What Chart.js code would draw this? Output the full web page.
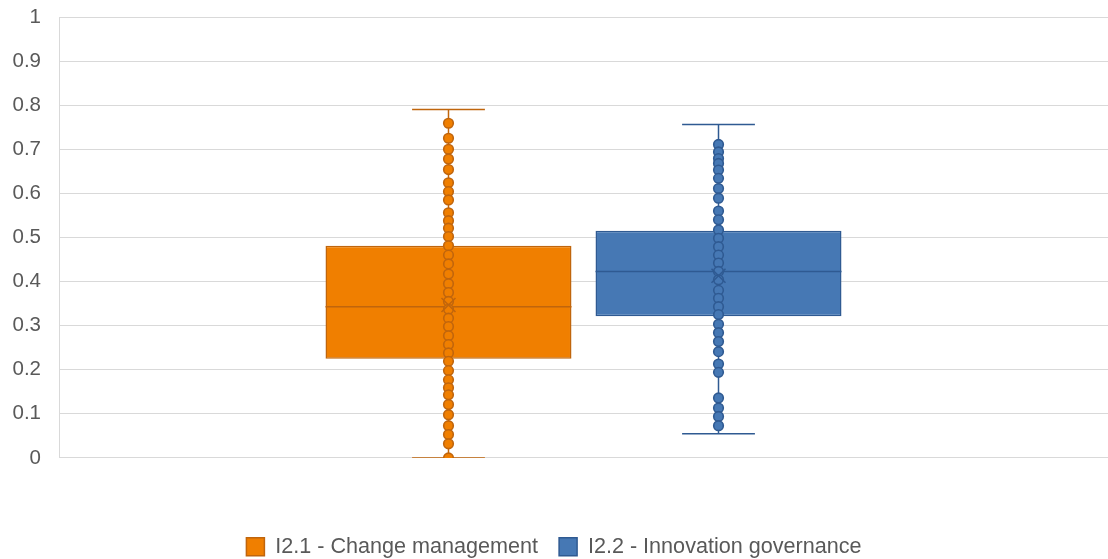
<!DOCTYPE html>
<html>
<head>
<meta charset="utf-8">
<title>Box plot</title>
<script src="https://cdn.jsdelivr.net/npm/chart.js@4/dist/chart.umd.min.js"></script>
<style>
  html, body { margin: 0; padding: 0; background: #ffffff; }
  #wrap { width: 1108px; height: 559px; position: relative; }
</style>
</head>
<body>
<div id="wrap"><canvas id="chart"></canvas></div>
<script>
// Series names (one box per series, single blank category)
const seriesNames = ['I2.1 - Change management', 'I2.2 - Innovation governance'];

// Individual observations shown as inner points
const changePoints = [
  0.759, 0.725, 0.700, 0.678, 0.654, 0.624, 0.604, 0.585, 0.556, 0.538,
  0.521, 0.502, 0.481, 0.460, 0.440, 0.417, 0.395, 0.375, 0.355, 0.337,
  0.317, 0.298, 0.277, 0.257, 0.238, 0.219, 0.198, 0.177, 0.159, 0.143,
  0.121, 0.098, 0.073, 0.053, 0.032, 0.000
];
const governancePoints = [
  0.711, 0.694, 0.679, 0.668, 0.653, 0.634, 0.611, 0.589, 0.560, 0.540,
  0.517, 0.498, 0.479, 0.460, 0.442, 0.423, 0.404, 0.380, 0.362, 0.343,
  0.325, 0.303, 0.284, 0.264, 0.241, 0.213, 0.194, 0.136, 0.113, 0.094,
  0.073
];

// Five-number summaries and means, one entry per series
const minValues    = [0.000, 0.055];
const q1Values     = [0.225, 0.321];
const medianValues = [0.343, 0.423];
const q3Values     = [0.481, 0.515];
const maxValues    = [0.790, 0.756];
const meanValues   = [0.347, 0.413];

const fillColors   = ['#F07F00', '#4678B4'];
const strokeColors = ['#C0650C', '#2F5A92'];
const pointSets    = [changePoints, governancePoints];

const textColor = '#595959';
const gridColor = '#D9D9D9';
const fontFamily = '"Liberation Sans", Arial, sans-serif';

// Whiskers, median, inner points and mean markers on top of the box bars
const boxDetails = {
  id: 'boxDetails',
  afterDatasetsDraw(chart) {
    const ctx = chart.ctx;
    const y = chart.scales.y;
    const area = chart.chartArea;
    ctx.save();
    ctx.beginPath();
    ctx.rect(area.left, area.top, area.right - area.left, area.bottom - area.top);
    ctx.clip();
    chart.data.datasets.forEach((ds, i) => {
      const bar = chart.getDatasetMeta(i).data[0];
      if (!bar) return;
      const cx = bar.x;
      const half = bar.width / 2;
      const capHalf = bar.width * 0.148;
      const stroke = strokeColors[i];
      ctx.strokeStyle = stroke;
      ctx.lineWidth = 1.5;

      // whiskers
      ctx.beginPath();
      ctx.moveTo(cx, y.getPixelForValue(q3Values[i]));
      ctx.lineTo(cx, y.getPixelForValue(maxValues[i]));
      ctx.moveTo(cx, y.getPixelForValue(q1Values[i]));
      ctx.lineTo(cx, y.getPixelForValue(minValues[i]));
      ctx.moveTo(cx - capHalf, y.getPixelForValue(maxValues[i]));
      ctx.lineTo(cx + capHalf, y.getPixelForValue(maxValues[i]));
      ctx.moveTo(cx - capHalf, y.getPixelForValue(minValues[i]));
      ctx.lineTo(cx + capHalf, y.getPixelForValue(minValues[i]));
      ctx.stroke();

      // median
      const my = y.getPixelForValue(medianValues[i]);
      ctx.beginPath();
      ctx.moveTo(cx - half, my);
      ctx.lineTo(cx + half, my);
      ctx.stroke();

      // inner points
      pointSets[i].forEach(v => {
        ctx.beginPath();
        ctx.arc(cx, y.getPixelForValue(v), 4.8, 0, Math.PI * 2);
        ctx.fillStyle = fillColors[i];
        ctx.fill();
        ctx.lineWidth = 1.6;
        ctx.stroke();
      });

      // mean marker
      const meanY = y.getPixelForValue(meanValues[i]);
      ctx.lineWidth = 1.5;
      ctx.beginPath();
      ctx.moveTo(cx - 7, meanY - 7);
      ctx.lineTo(cx + 7, meanY + 7);
      ctx.moveTo(cx + 7, meanY - 7);
      ctx.lineTo(cx - 7, meanY + 7);
      ctx.stroke();
    });
    ctx.restore();
  }
};

new Chart(document.getElementById('chart'), {
  type: 'bar',
  data: {
    labels: [''],
    datasets: seriesNames.map((name, i) => ({
      label: name,
      data: [[q1Values[i], q3Values[i]]],
      backgroundColor: fillColors[i],
      borderColor: strokeColors[i],
      borderWidth: 1.5,
      borderSkipped: false,
      categoryPercentage: 0.5148,
      barPercentage: 0.911
    }))
  },
  options: {
    responsive: true,
    maintainAspectRatio: false,
    animation: false,
    layout: { padding: { top: 17, right: 0, bottom: -8.5, left: 0 } },
    plugins: {
      tooltip: { enabled: false },
      legend: {
        position: 'bottom',
        labels: {
          boxWidth: 18,
          boxHeight: 18,
          padding: 21,
          color: textColor,
          font: { family: fontFamily, size: 21.6 }
        }
      }
    },
    scales: {
      x: {
        display: true,
        grid: { display: false },
        border: { display: false },
        ticks: { display: false },
        afterFit(scale) { scale.height = 57; }
      },
      y: {
        min: 0,
        max: 1,
        ticks: {
          stepSize: 0.1,
          padding: 18,
          color: textColor,
          font: { family: fontFamily, size: 20.5 },
          callback: v => String(Number(v.toFixed(1)))
        },
        grid: { color: gridColor, lineWidth: 1, drawTicks: false },
        border: { display: true, color: gridColor, width: 1 },
        afterFit(scale) {
          scale.width = 59;
          scale.paddingTop = 0;
          scale.paddingBottom = 0;
        }
      }
    }
  },
  plugins: [boxDetails]
});
</script>
</body>
</html>
